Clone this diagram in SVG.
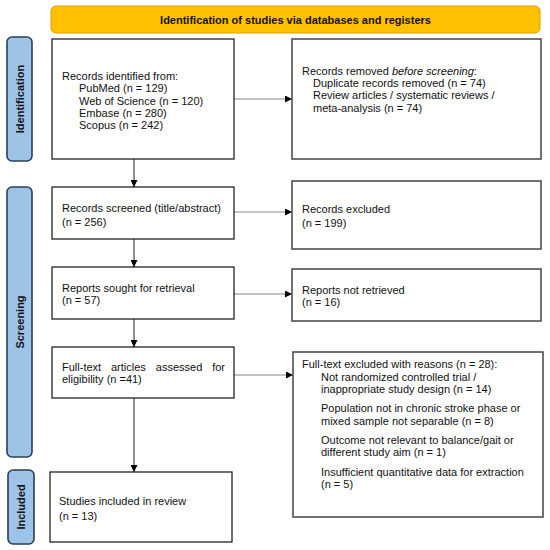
<svg xmlns="http://www.w3.org/2000/svg" width="550" height="550" viewBox="0 0 550 550">
<style>
text{font-family:"Liberation Sans",Arial,sans-serif;font-size:11px;fill:#111}
.b{font-weight:bold}
.side{fill:#9dc3e6;stroke:#2b3f55;stroke-width:1.6}
.lbox{fill:#fff;stroke:#111;stroke-width:1.2}
.rbox{fill:#fff;stroke:#444;stroke-width:1.5}
.vc{stroke:#222;stroke-width:1;fill:none}
.hc{stroke:#888;stroke-width:1.2;fill:none}
</style>
<defs>
<marker id="ah" viewBox="0 0 10 10" refX="10" refY="5" markerWidth="7" markerHeight="7" markerUnits="userSpaceOnUse" orient="auto">
<path d="M0,0 L10,5 L0,10 z" fill="#000"/>
</marker>
</defs>
<rect width="550" height="550" fill="#fff"/>

<g id="header">
<rect x="51" y="6" width="489" height="27" rx="5" fill="#ffc000" stroke="#e0a000" stroke-width="1"/>
<text class="b" x="295.5" y="23.5" text-anchor="middle">Identification of studies via databases and registers</text>
</g>

<g id="side-identification">
<rect class="side" x="7" y="37" width="25" height="124" rx="5"/>
<text class="b" transform="translate(24,99) rotate(-90)" text-anchor="middle">Identification</text>
</g>
<g id="side-screening">
<rect class="side" x="7" y="187" width="25" height="270" rx="5"/>
<text class="b" transform="translate(24,322) rotate(-90)" text-anchor="middle">Screening</text>
</g>
<g id="side-included">
<rect class="side" x="8" y="470" width="26" height="74" rx="5"/>
<text class="b" transform="translate(25,507) rotate(-90)" text-anchor="middle">Included</text>
</g>

<g id="connectors">
<line class="vc" x1="134" y1="159" x2="134" y2="187" marker-end="url(#ah)"/>
<line class="vc" x1="134" y1="239" x2="134" y2="267" marker-end="url(#ah)"/>
<line class="vc" x1="134" y1="319" x2="134" y2="347" marker-end="url(#ah)"/>
<line class="vc" x1="134" y1="398" x2="134" y2="472" marker-end="url(#ah)"/>
<line class="hc" x1="234" y1="99" x2="292" y2="99" marker-end="url(#ah)"/>
<line class="hc" x1="234" y1="212" x2="292" y2="212" marker-end="url(#ah)"/>
<line class="hc" x1="234" y1="294" x2="292" y2="294" marker-end="url(#ah)"/>
<line class="hc" x1="234" y1="375" x2="293" y2="375" marker-end="url(#ah)"/>
</g>

<g id="records-identified">
<rect class="lbox" x="52" y="39" width="182" height="120"/>
<text x="62" y="80">Records identified from:</text>
<text x="79" y="92.3">PubMed (n = 129)</text>
<text x="79" y="104.6">Web of Science (n = 120)</text>
<text x="79" y="116.9">Embase (n = 280)</text>
<text x="79" y="129.2">Scopus (n = 242)</text>
</g>

<g id="records-removed">
<rect class="rbox" x="292" y="39" width="249" height="120"/>
<text x="302" y="74.7">Records removed <tspan font-style="italic">before screening</tspan>:</text>
<text x="313" y="87">Duplicate records removed (n = 74)</text>
<text x="313" y="99.3">Review articles / systematic reviews /</text>
<text x="313" y="111.6">meta-analysis (n = 74)</text>
</g>

<g id="records-screened">
<rect class="lbox" x="52" y="187" width="182" height="52"/>
<text x="62" y="212.3">Records screened (title/abstract)</text>
<text x="62" y="225.8">(n = 256)</text>
</g>

<g id="records-excluded">
<rect class="rbox" x="292" y="181" width="249" height="68"/>
<text x="302" y="213.3">Records excluded</text>
<text x="302" y="226.8">(n = 199)</text>
</g>

<g id="reports-sought">
<rect class="lbox" x="52" y="267" width="182" height="52"/>
<text x="62" y="291.7">Reports sought for retrieval</text>
<text x="62" y="304">(n = 57)</text>
</g>

<g id="reports-not-retrieved">
<rect class="rbox" x="292" y="269" width="249" height="52"/>
<text x="302" y="294">Reports not retrieved</text>
<text x="302" y="306.3">(n = 16)</text>
</g>

<g id="full-text-assessed">
<rect class="lbox" x="52" y="347" width="182" height="51"/>
<text y="371"><tspan x="62">Full-text</tspan><tspan x="111">articles</tspan><tspan x="155.8">assessed</tspan><tspan x="212.2">for</tspan></text>
<text x="62" y="383.3">eligibility (n =41)</text>
</g>

<g id="full-text-excluded">
<rect class="rbox" x="293" y="352" width="250" height="165"/>
<text x="302" y="368.3">Full-text excluded with reasons (n = 28):</text>
<text x="321" y="381">Not randomized controlled trial /</text>
<text x="321" y="393.3">inappropriate study design (n = 14)</text>
<text x="321" y="412.3">Population not in chronic stroke phase or</text>
<text x="321" y="424.7">mixed sample not separable (n = 8)</text>
<text x="321" y="444">Outcome not relevant to balance/gait or</text>
<text x="321" y="456.3">different study aim (n = 1)</text>
<text x="321" y="475.7">Insufficient quantitative data for extraction</text>
<text x="321" y="488.3">(n = 5)</text>
</g>

<g id="studies-included">
<rect class="lbox" x="50" y="472" width="182" height="70"/>
<text x="59" y="504.7">Studies included in review</text>
<text x="59" y="519.7">(n = 13)</text>
</g>
</svg>
